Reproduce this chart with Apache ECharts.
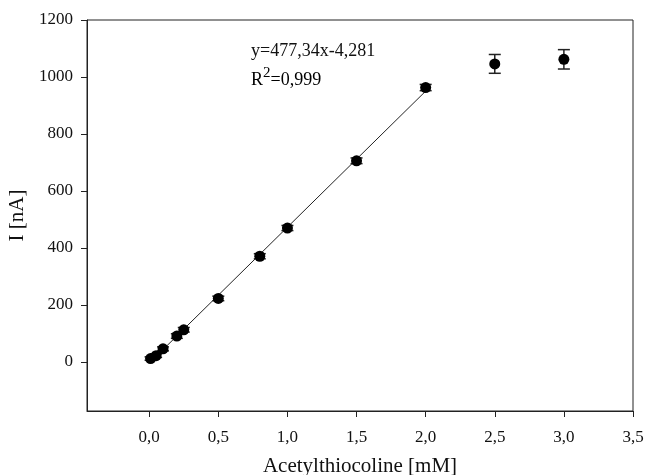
<!DOCTYPE html>
<html>
<head>
<meta charset="utf-8">
<script src="https://cdn.jsdelivr.net/npm/echarts@6/dist/echarts.min.js"></script>
<style>html,body{margin:0;padding:0;background:#fff}#c{width:648px;height:475px}</style>
</head>
<body>
<div id="c"></div>
<script>
const concentration = [0.01, 0.05, 0.1, 0.2, 0.25, 0.5, 0.8, 1.0, 1.5, 2.0, 2.5, 3.0];
const current = [12, 22, 46, 91, 113, 223, 371, 470, 706, 963, 1046, 1062];
const currentErr = [6, 6, 7, 8, 8, 8, 9, 9, 10, 11, 33, 34];
const xTicks = [0, 0.5, 1.0, 1.5, 2.0, 2.5, 3.0, 3.5];
const yTicks = [0, 200, 400, 600, 800, 1000, 1200];
const fitSlope = 477.34, fitIntercept = -4.281, fitRange = [0, 2.0];
const eqText = 'y=477,34x-4,281';
const r2Text = '0,999';

const F = '"Liberation Serif","DejaVu Serif",serif';
const chart = echarts.init(document.getElementById('c'));
const pts = concentration.map((x, i) => [x, current[i]]);
const errs = concentration.map((x, i) => [x, current[i] - currentErr[i], current[i] + currentErr[i]]);
const fit = fitRange.map(x => [x, fitSlope * x + fitIntercept]);

chart.setOption({
  animation: false,
  grid: {left: 87, right: 15, top: 20, bottom: 64, show: true, borderColor: '#222', borderWidth: 1,
    outerBoundsMode: 'none', containLabel: false},
  xAxis: {
    type: 'value', min: -0.45, max: 3.5,
    name: 'Acetylthiocoline [mM]', nameLocation: 'middle', nameGap: 45,
    nameTextStyle: {fontFamily: F, fontSize: 21, color: '#111'},
    axisLine: {onZero: false, lineStyle: {color: '#222', width: 1}},
    axisTick: {customValues: xTicks, inside: false, length: 6, lineStyle: {color: '#222'}},
    axisLabel: {customValues: xTicks, fontFamily: F, fontSize: 17, color: '#111', margin: 18,
      formatter: v => v.toFixed(1).replace('.', ',')},
    splitLine: {show: false}
  },
  yAxis: {
    type: 'value', min: -172, max: 1200,
    name: 'I [nA]', nameLocation: 'middle', nameGap: 49, nameRotate: 90,
    nameTextStyle: {fontFamily: F, fontSize: 21, color: '#111'},
    axisLine: {show: true, onZero: false, lineStyle: {color: '#222', width: 1}},
    axisTick: {show: true, inside: false, customValues: yTicks, length: 6, lineStyle: {color: '#222'}},
    axisLabel: {customValues: yTicks, fontFamily: F, fontSize: 17, color: '#111', margin: 14,
      formatter: v => String(v)},
    splitLine: {show: false}
  },
  graphic: [
    {type: 'text', left: 251, top: 42, style: {text: eqText, font: '18px ' + F, fill: '#111'}},
    {type: 'text', left: 251, top: 66, style: {
      text: '{a|R}{s|2}{a|=' + r2Text + '}',
      rich: {a: {fontFamily: F, fontSize: 18, color: '#111', verticalAlign: 'bottom'},
             s: {fontFamily: F, fontSize: 15, color: '#111', verticalAlign: 'top', padding: [0, 0, 8, 0]}}
    }}
  ],
  series: [
    {type: 'line', data: fit, showSymbol: false, symbol: 'none', lineStyle: {color: '#222', width: 1}, z: 1},
    {type: 'custom', data: errs, z: 2,
      renderItem: (params, api) => {
        const x = api.value(0);
        const lo = api.coord([x, api.value(1)]);
        const hi = api.coord([x, api.value(2)]);
        const w = 6;
        const st = {stroke: '#222', lineWidth: 1.5};
        return {type: 'group', children: [
          {type: 'line', shape: {x1: lo[0], y1: lo[1], x2: hi[0], y2: hi[1]}, style: st},
          {type: 'line', shape: {x1: lo[0] - w, y1: lo[1], x2: lo[0] + w, y2: lo[1]}, style: st},
          {type: 'line', shape: {x1: hi[0] - w, y1: hi[1], x2: hi[0] + w, y2: hi[1]}, style: st}
        ]};
      }
    },
    {type: 'scatter', data: pts, symbol: 'circle', symbolSize: 11, itemStyle: {color: '#000', opacity: 1}, z: 3}
  ]
});
</script>
</body>
</html>
